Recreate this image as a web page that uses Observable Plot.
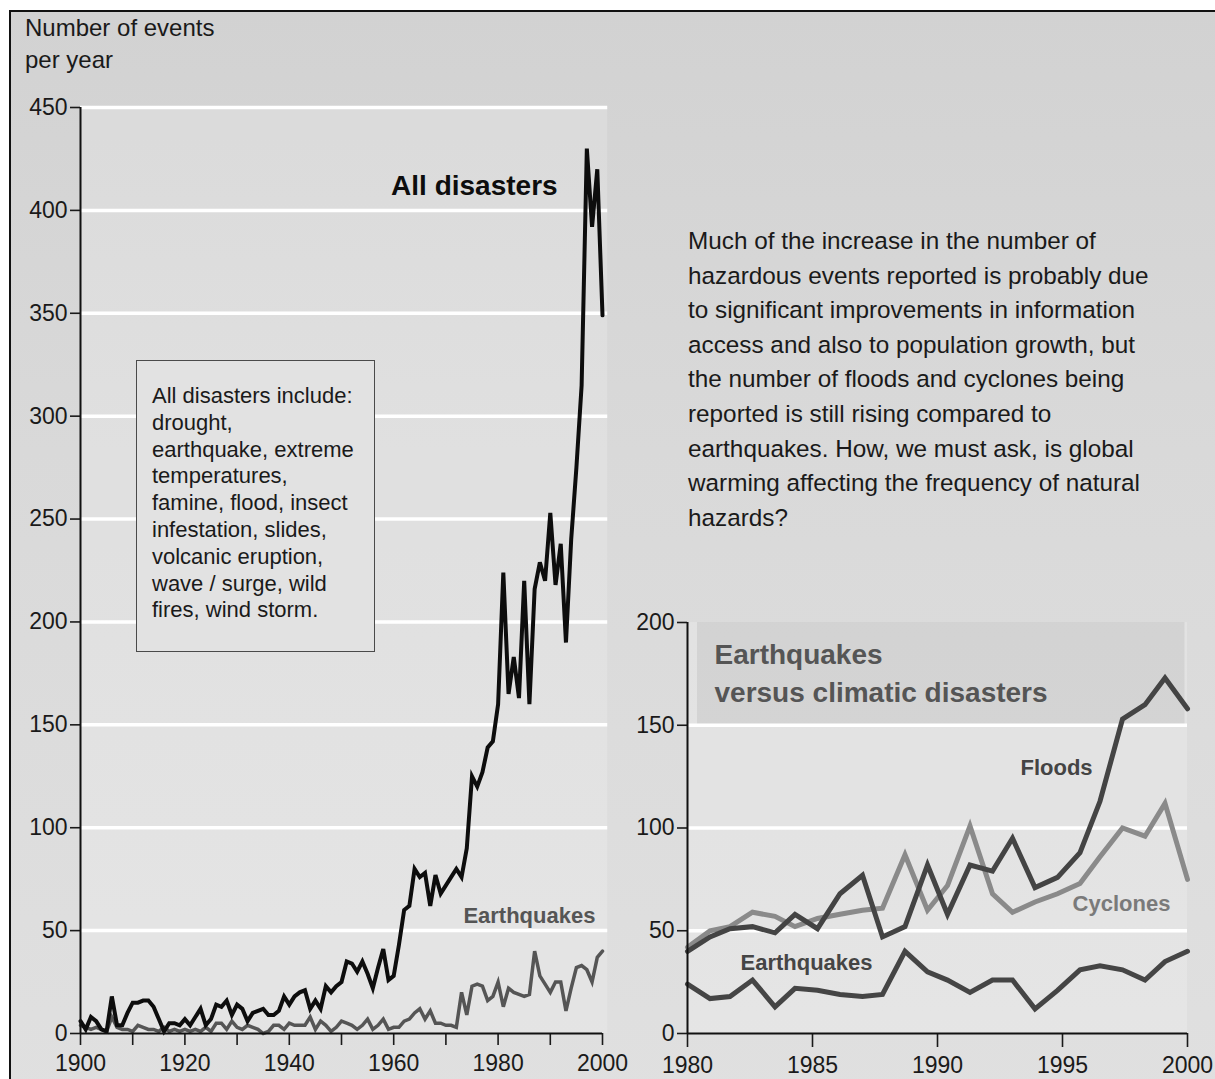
<!DOCTYPE html>
<html>
<head>
<meta charset="utf-8">
<script src="https://cdn.jsdelivr.net/npm/d3@7"></script>
<script src="https://cdn.jsdelivr.net/npm/@observablehq/plot@0.6"></script>
<style>
  html, body { margin: 0; padding: 0; width: 1215px; height: 1079px; overflow: hidden; background: #ffffff; }
  #stage { position: relative; width: 1215px; height: 1079px; overflow: hidden; font-family: "Liberation Sans", Arial, Helvetica, sans-serif; color: #1a1a1a; }
  #frame { position: absolute; left: 9px; top: 10px; width: 1210px; height: 1100px; border: 2px solid #111; box-sizing: border-box;
           background: linear-gradient(to bottom, #d2d2d2 0%, #d9d9d9 40%, #e0e0e0 100%); }
  .chart { position: absolute; top: 0; }
  .chart svg { overflow: visible; }
  #ylabel { position: absolute; left: 25px; top: 12px; font-size: 24px; line-height: 32px; }
  #note { position: absolute; left: 136px; top: 360px; width: 239px; height: 292px; box-sizing: border-box;
          border: 1.5px solid #4a4a4a; background: #e2e2e2; padding: 22px 0 0 15px; font-size: 22px; line-height: 26.8px; white-space: nowrap; }
  #para { position: absolute; left: 688px; top: 224px; font-size: 24.3px; line-height: 34.6px; white-space: nowrap; }
</style>
</head>
<body>
<div id="stage">
  <div id="frame"></div>
  <div id="left" class="chart" style="left:0px"></div>
  <div id="right" class="chart" style="left:628px"></div>
  <div id="ylabel">Number of events<br>per year</div>
  <div id="note">All disasters include:<br>drought,<br>earthquake, extreme<br>temperatures,<br>famine, flood, insect<br>infestation, slides,<br>volcanic eruption,<br>wave / surge, wild<br>fires, wind storm.</div>
  <div id="para">Much of the increase in the number of<br>hazardous events reported is probably due<br>to significant improvements in information<br>access and also to population growth, but<br>the number of floods and cyclones being<br>reported is still rising compared to<br>earthquakes. How, we must ask, is global<br>warming affecting the frequency of natural<br>hazards?</div>
</div>
<script>
// ---------- Left chart data (1900–2000, yearly) ----------
const leftYears = d3.range(1900, 2001);
const allDisasters = [
  6, 2, 8, 6, 2, 1, 18, 4, 4, 10,
  15, 15, 16, 16, 13, 7, 1, 5, 5, 4,
  7, 4, 8, 12, 4, 7, 14, 13, 16, 9,
  14, 12, 6, 10, 11, 12, 9, 9, 11, 18,
  14, 18, 20, 21, 12, 16, 12, 23, 20, 23,
  25, 35, 34, 30, 35, 29, 22, 32, 41, 26,
  28, 43, 60, 62, 80, 76, 78, 62, 77, 68,
  72, 76, 80, 76, 90, 125, 120, 127, 139, 142,
  160, 224, 165, 183, 163, 220, 160, 216, 229, 220,
  253, 218, 238, 190, 240, 275, 315, 430, 392, 420,
  349
];
const earthquakesLeft = [
  4, 3, 2, 3, 2, 1, 8, 3, 2, 2,
  1, 4, 3, 2, 2, 1, 3, 1, 2, 1,
  2, 1, 2, 1, 3, 1, 5, 5, 2, 6,
  3, 2, 4, 3, 2, 0, 1, 4, 4, 2,
  5, 4, 4, 4, 8, 2, 6, 4, 1, 3,
  6, 5, 4, 2, 4, 7, 2, 4, 7, 2,
  3, 3, 6, 7, 10, 12, 7, 11, 5, 5,
  4, 4, 3, 20, 9, 23, 24, 23, 16, 18,
  25, 13, 22, 20, 19, 18, 19, 40, 28, 24,
  20, 25, 25, 11, 22, 32, 33, 31, 25, 37,
  40
];
const leftYTicks = [0, 50, 100, 150, 200, 250, 300, 350, 400, 450];
const leftGrid = [50, 100, 150, 200, 250, 300, 350, 400, 450];
const leftXTicks = [1900, 1910, 1920, 1930, 1940, 1950, 1960, 1970, 1980, 1990, 2000];
const leftXLabels = [1900, 1920, 1940, 1960, 1980, 2000];

// ---------- Right chart data (vertices) ----------
const rightYears = [1980.0, 1980.9, 1981.7, 1982.6, 1983.5, 1984.3, 1985.2, 1986.1, 1987.0, 1987.8, 1988.7, 1989.6,
                    1990.4, 1991.3, 1992.2, 1993.0, 1993.9, 1994.8, 1995.7, 1996.5, 1997.4, 1998.3, 1999.1, 2000.0];
const floods = [40, 47, 51, 52, 49, 58, 51, 68, 77, 47, 52, 82, 58, 82, 79, 95, 71, 76, 88, 113, 153, 160, 173, 158];
const cyclones = [42, 50, 52, 59, 57, 52, 56, 58, 60, 61, 87, 60, 72, 101, 68, 59, 64, 68, 73, 86, 100, 96, 112, 75];
const earthquakesRight = [24, 17, 18, 26, 13, 22, 21, 19, 18, 19, 40, 30, 26, 20, 26, 26, 12, 21, 31, 33, 31, 26, 35, 40];
const rightYTicks = [0, 50, 100, 150, 200];
const rightGrid = [50, 100, 150];
const rightXTicks = [1980, 1985, 1990, 1995, 2000];
const rightBand = [{from: 150, to: 200}];

// ---------- Annotations (data units) ----------
const leftNotes = [
  {year: 1991.4, value: 412, text: "All disasters", size: 28, color: "#0d0d0d", anchor: "end"},
  {year: 1986.0, value: 57, text: "Earthquakes", size: 22, color: "#555555", anchor: "middle"}
];
const rightNotes = [
  {year: 1981.08, value: 184, text: "Earthquakes", size: 28, color: "#555555", anchor: "start"},
  {year: 1981.08, value: 165.5, text: "versus climatic disasters", size: 28, color: "#555555", anchor: "start"},
  {year: 1994.76, value: 129.4, text: "Floods", size: 22, color: "#444444", anchor: "middle"},
  {year: 1997.36, value: 62.8, text: "Cyclones", size: 22, color: "#7a7a7a", anchor: "middle"},
  {year: 1984.76, value: 34.5, text: "Earthquakes", size: 22, color: "#454545", anchor: "middle"}
];

const font = '"Liberation Sans", Arial, Helvetica, sans-serif';
const leftAll = leftYears.map((y, i) => ({year: y, value: allDisasters[i]}));
const leftQuake = leftYears.map((y, i) => ({year: y, value: earthquakesLeft[i]}));
const rFloods = rightYears.map((y, i) => ({year: y, value: floods[i]}));
const rCyc = rightYears.map((y, i) => ({year: y, value: cyclones[i]}));
const rQuake = rightYears.map((y, i) => ({year: y, value: earthquakesRight[i]}));

const textMarks = (notes) => notes.map(n => Plot.text([n], {
  x: "year", y: "value", text: "text", fontSize: n.size, fontWeight: "bold",
  fill: n.color, textAnchor: n.anchor, fontFamily: font
}));

const left = Plot.plot({
  width: 630, height: 1079,
  marginLeft: 80, marginRight: 28, marginTop: 107, marginBottom: 46,
  x: {domain: [1900, 2000]},
  y: {domain: [0, 450]},
  style: {background: "transparent", overflow: "visible", fontFamily: font, fontSize: "23px", color: "#1a1a1a"},
  marks: [
    Plot.rect([0], {x1: 1900, x2: 2001, y1: 0, y2: 450, fill: "#ffffff", fillOpacity: 0.18}),
    Plot.ruleY(leftGrid, {y: d => d, x1: 1900, x2: 2001, stroke: "#ffffff", strokeWidth: 3.5}),
    Plot.axisY({ticks: leftYTicks, tickSize: 10, tickPadding: 3, tickFormat: d => String(d), label: null, fontSize: 23, strokeWidth: 1.6}),
    Plot.axisX({ticks: leftXTicks, tickSize: 12, tickPadding: 9, tickFormat: d => leftXLabels.includes(d) ? String(d) : "", label: null, fontSize: 23, strokeWidth: 1.6}),
    Plot.line(leftQuake, {x: "year", y: "value", stroke: "#555555", strokeWidth: 3.5, strokeLinejoin: "miter", strokeMiterlimit: 4}),
    Plot.line(leftAll, {x: "year", y: "value", stroke: "#0d0d0d", strokeWidth: 4, strokeLinejoin: "miter", strokeMiterlimit: 4}),
    Plot.ruleX([1900], {y1: 0, y2: 450, stroke: "#111", strokeWidth: 2}),
    Plot.ruleY([0], {x1: 1900, x2: 2000, stroke: "#111", strokeWidth: 2}),
    ...textMarks(leftNotes)
  ]
});
document.getElementById("left").append(left);

const right = Plot.plot({
  width: 587, height: 1079,
  marginLeft: 59, marginRight: 28, marginTop: 622, marginBottom: 46,
  x: {domain: [1980, 2000]},
  y: {domain: [0, 200]},
  style: {background: "transparent", overflow: "visible", fontFamily: font, fontSize: "23px", color: "#1a1a1a"},
  marks: [
    Plot.rect([0], {x1: 1980, x2: 2000, y1: 0, y2: 200, fill: "#ffffff", fillOpacity: 0.2}),
    Plot.rect(rightBand, {x1: 1980.4, x2: 1999.9, y1: "from", y2: "to", fill: "#b8b8b8", fillOpacity: 0.35}),
    Plot.ruleY(rightGrid, {y: d => d, x1: 1980, x2: 2000, stroke: "#ffffff", strokeWidth: 3.5}),
    Plot.axisY({ticks: rightYTicks, tickSize: 10, tickPadding: 3, tickFormat: d => String(d), label: null, fontSize: 23, strokeWidth: 1.6}),
    Plot.axisX({ticks: rightXTicks, tickSize: 14, tickPadding: 9, tickFormat: d => String(d), label: null, fontSize: 23, strokeWidth: 1.6}),
    Plot.line(rCyc, {x: "year", y: "value", stroke: "#8a8a8a", strokeWidth: 5, strokeLinejoin: "miter", strokeMiterlimit: 4}),
    Plot.line(rFloods, {x: "year", y: "value", stroke: "#444444", strokeWidth: 5, strokeLinejoin: "miter", strokeMiterlimit: 4}),
    Plot.line(rQuake, {x: "year", y: "value", stroke: "#454545", strokeWidth: 5, strokeLinejoin: "miter", strokeMiterlimit: 4}),
    Plot.ruleX([1980], {y1: 0, y2: 200, stroke: "#111", strokeWidth: 2}),
    Plot.ruleY([0], {x1: 1980, x2: 2000, stroke: "#111", strokeWidth: 2}),
    ...textMarks(rightNotes)
  ]
});
document.getElementById("right").append(right);
</script>
</body>
</html>
